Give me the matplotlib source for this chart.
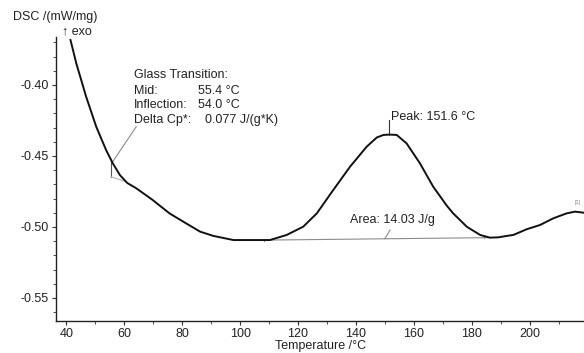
import numpy as np
import matplotlib
matplotlib.use('Agg')
import matplotlib.pyplot as plt
from matplotlib.ticker import MultipleLocator

plt.rcParams['font.family'] = ['Liberation Sans', 'DejaVu Sans']
plt.rcParams['font.size'] = 9

# DSC-Kurve
temp = [41.4, 43.4, 46.8, 50.3, 53.7, 56.0, 58.5, 61.0, 64.1, 69.8, 75.6, 81.3, 86.2,
        90.8, 97.7, 110.3, 116.1, 121.8, 126.5, 132.2, 138.0, 143.7, 147.2, 149.5,
        151.6, 154.1, 157.5, 162.1, 166.7, 171.4, 173.6, 178.3, 182.9, 186.3,
        189.2, 192.1, 194.4, 199.0, 203.6, 208.2, 212.8, 215.7, 218.5]
dsc = [-0.3683, -0.3847, -0.4082, -0.4294, -0.4458, -0.4551, -0.4635, -0.4690,
       -0.4727, -0.4810, -0.4904, -0.4974, -0.5033, -0.5063, -0.5092, -0.5092,
       -0.5056, -0.4998, -0.4904, -0.4739, -0.4575, -0.4435, -0.4370, -0.4352,
       -0.4349, -0.4352, -0.4411, -0.4551, -0.4716, -0.4850, -0.4904, -0.4998,
       -0.5056, -0.5075, -0.5073, -0.5063, -0.5056, -0.5016, -0.4986, -0.4939,
       -0.4904, -0.4892, -0.4899]

# Auswertung
tg_mid = 55.4
tg_infl = 54.0
delta_cp = 0.077
peak_t = 151.6
peak_y = -0.4349
area = 14.03
base_t = [110.3, 186.3]
base_y = [-0.5092, -0.5075]

txt = '#222222'
grau = '#8c8c8c'

fig = plt.figure(figsize=(5.84, 3.53), dpi=100)
ax = fig.add_axes([0.0959, 0.0907, 0.9041, 0.8045])

ax.plot(temp, dsc, color='#111111', lw=1.4, zorder=3)

# Basislinie und Fläche
ax.plot(base_t, base_y, color=grau, lw=0.8)
for t, y in zip(base_t, base_y):
    ax.plot([t - 2.0, t - 2.0], [y - 0.0006, y + 0.0006], color=grau, lw=0.8)
ax.plot([150.0, 151.8], [-0.5083, -0.5021], color=grau, lw=0.8)
ax.text(137.9, -0.4951, f'Area: {area:.2f} J/g', color=txt, va='center', ha='left')

# Peak
ax.plot([peak_t, peak_t], [peak_y, -0.4246], color='#333333', lw=0.8)
ax.text(152.0, -0.4225, f'Peak: {peak_t:.1f} °C', color=txt, va='center', ha='left')

# Glasübergang
ax.plot([64.1, 56.0], [-0.4294, -0.4540], color=grau, lw=0.8)
ax.plot([tg_mid, tg_mid], [-0.4540, -0.4646], color='#555555', lw=0.8)
ax.plot([tg_mid, 60.6], [-0.4646, -0.4681], color='#bbbbbb', lw=0.9)
ax.text(63.4, -0.3930, 'Glass Transition:', color=txt, va='center')
ax.text(63.4, -0.4042, 'Mid:', color=txt, va='center')
ax.text(85.5, -0.4042, f'{tg_mid:.1f} °C', color=txt, va='center')
ax.text(63.4, -0.4141, 'Inflection:', color=txt, va='center')
ax.text(85.5, -0.4141, f'{tg_infl:.1f} °C', color=txt, va='center')
ax.text(63.4, -0.4246, 'Delta Cp*:', color=txt, va='center')
ax.text(87.9, -0.4246, f'{delta_cp:.3f} J/(g*K)', color=txt, va='center')

ax.text(216.6, -0.4831, '[1]', color=grau, fontsize=4, ha='center', va='center')

ax.set_xlim(36.4, 218.8)
ax.set_ylim(-0.5662, -0.3662)
ax.xaxis.set_minor_locator(MultipleLocator(10))
ax.set_xticks([40, 60, 80, 100, 120, 140, 160, 180, 200])
ax.set_yticks([-0.40, -0.45, -0.50, -0.55])
ax.set_yticklabels(['-0.40', '-0.45', '-0.50', '-0.55'])
ax.yaxis.set_minor_locator(MultipleLocator(0.01))
ax.tick_params(which='major', length=3, width=0.8, colors='#333333', labelcolor=txt, labelsize=9, pad=2)
ax.tick_params(which='minor', length=2, width=0.6, colors='#333333')

for s in ['top', 'right']:
    ax.spines[s].set_visible(False)
for s in ['left', 'bottom']:
    ax.spines[s].set_color('#222222')
    ax.spines[s].set_linewidth(1.0)

fig.text(13 / 584, 1 - 17 / 353, 'DSC /(mW/mg)', color=txt, va='center', ha='left')
fig.text(62 / 584, 1 - 31 / 353, '↑ exo', color=txt, va='center', ha='left')
fig.text(321 / 584, 1 - 346 / 353, 'Temperature /°C', color=txt, va='center', ha='center')

fig.savefig('out.png', dpi=100)
